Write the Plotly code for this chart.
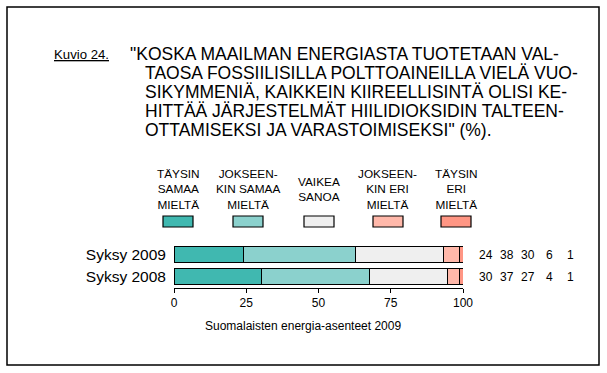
import plotly.graph_objects as go

# ---- data ----
categories = ["Syksy 2008", "Syksy 2009"]
series_names = ["TÄYSIN<br>SAMAA<br>MIELTÄ", "JOKSEEN-<br>KIN SAMAA<br>MIELTÄ", "VAIKEA<br>SANOA",
                "JOKSEEN-<br>KIN ERI<br>MIELTÄ", "TÄYSIN<br>ERI<br>MIELTÄ"]
# values (%) per series: [Syksy 2008, Syksy 2009]
taysin_samaa = [30.3, 24.2]
jokseenkin_samaa = [37.3, 38.5]
vaikea_sanoa = [27.2, 30.4]
jokseenkin_eri = [4.1, 5.8]
taysin_eri = [1.1, 1.1]
# printed value labels per row
labels_2008 = ["30", "37", "27", "4", "1"]
labels_2009 = ["24", "38", "30", "6", "1"]
x_ticks = [0, 25, 50, 75, 100]

colors = ["#40b8b0", "#8bd1cd", "#efefef", "#ffb8aa", "#ff9684"]
series = [taysin_samaa, jokseenkin_samaa, vaikea_sanoa, jokseenkin_eri, taysin_eri]

W, H = 607, 373
def px(x):
    return x / W
def py(y):
    return 1 - y / H

FONT = "Arial, Liberation Sans, sans-serif"

fig = go.Figure()
for name, vals, col in zip(series_names, series, colors):
    fig.add_trace(go.Bar(
        y=categories, x=vals, orientation="h", name=name,
        marker=dict(color=col, line=dict(color="black", width=1)),
        width=0.73, showlegend=False, hoverinfo="skip"))

fig.update_layout(
    barmode="stack", width=W, height=H, autosize=False,
    margin=dict(l=0, r=0, t=0, b=0, pad=0),
    paper_bgcolor="white", plot_bgcolor="white",
    font=dict(family=FONT, color="black"),
    xaxis=dict(domain=[px(174), px(463)], range=[0, 100], tickvals=x_ticks,
               showgrid=False, zeroline=False, showline=True, linecolor="black",
               linewidth=1, ticks="outside", ticklen=4, tickcolor="black",
               tickfont=dict(size=12, family=FONT), anchor="y", automargin=False),
    yaxis=dict(domain=[py(287.5), py(243.5)], range=[-0.5, 1.5],
               showgrid=False, zeroline=False, showline=False, ticks="",
               tickfont=dict(size=15.5, family=FONT), ticklabelstandoff=7,
               automargin=False),
)

ann = []
# right-side value labels
label_x = [486, 506.5, 527.5, 549, 570]
for cat, labs in zip(categories, [labels_2008, labels_2009]):
    for lx, t in zip(label_x, labs):
        ann.append(dict(x=px(lx), y=cat, xref="paper", yref="y", text=t,
                        showarrow=False, xanchor="center", yanchor="middle",
                        font=dict(size=12, family=FONT)))

# legend (text above swatches)
leg_cx = [178, 248, 319, 388, 456]
for cx, name, col in zip(leg_cx, series_names, colors):
    ann.append(dict(x=px(cx), y=py(189.5), xref="paper", yref="paper", text=name,
                    showarrow=False, xanchor="center", yanchor="middle",
                    align="center", font=dict(size=11.8, family=FONT)))
    fig.add_shape(type="rect", xref="paper", yref="paper",
                  x0=px(cx - 15), x1=px(cx + 15), y0=py(227), y1=py(216),
                  fillcolor=col, line=dict(color="black", width=1.2))

# title
ann.append(dict(x=px(52), y=py(55), xref="paper", yref="paper", text="<u>Kuvio 24.</u>",
                showarrow=False, xanchor="left", yanchor="middle",
                font=dict(size=13.2, family=FONT)))
title_lines = ['"KOSKA MAAILMAN ENERGIASTA TUOTETAAN VAL-',
               "TAOSA FOSSIILISILLA POLTTOAINEILLA VIELÄ VUO-",
               "SIKYMMENIÄ, KAIKKEIN KIIREELLISINTÄ OLISI KE-",
               "HITTÄÄ JÄRJESTELMÄT HIILIDIOKSIDIN TALTEEN-",
               'OTTAMISEKSI JA VARASTOIMISEKSI" (%).']
for i, line in enumerate(title_lines):
    ann.append(dict(x=px(128 if i == 0 else 143), y=py(54 + 19 * i), xref="paper", yref="paper",
                    text=line, showarrow=False, xanchor="left", yanchor="middle",
                    font=dict(size=17.5, family=FONT)))

# source
ann.append(dict(x=px(303), y=py(326), xref="paper", yref="paper",
                text="Suomalaisten energia-asenteet 2009", showarrow=False,
                xanchor="center", yanchor="middle", font=dict(size=12, family=FONT)))

fig.update_layout(annotations=ann)

# frame
fig.add_shape(type="rect", xref="paper", yref="paper",
              x0=px(7), x1=px(599), y0=py(365), y1=py(7),
              line=dict(color="black", width=1.5), fillcolor="rgba(0,0,0,0)")

fig.write_html("out.html", config={"displayModeBar": False},
               post_script="document.body.style.margin='0';document.body.style.padding='0';")
